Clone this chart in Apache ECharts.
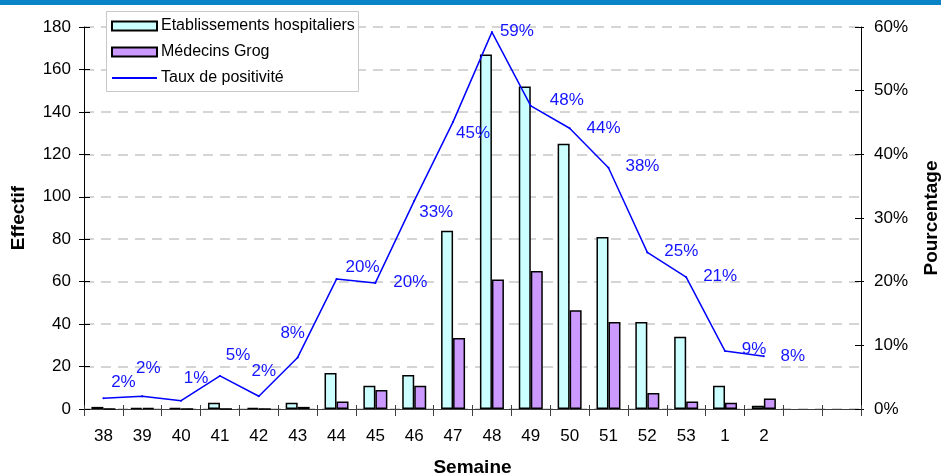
<!DOCTYPE html>
<html>
<head>
<meta charset="utf-8">
<script src="https://cdn.jsdelivr.net/npm/echarts@6/dist/echarts.min.js"></script>
<style>
html,body{margin:0;padding:0;background:#fff;}
#c{width:941px;height:475px;}
</style>
</head>
<body>
<div id="c"></div>
<script>
// ---- data ----
const weeks = ['38','39','40','41','42','43','44','45','46','47','48','49','50','51','52','53','1','2','',''];
const hospitaliers = [1, 0.5, 0.5, 3, 0.5, 3, 17, 11, 16, 84, 167, 152, 125, 81, 41, 34, 11, 1.5];
const grog = [0, 0.5, 0, 0, 0, 1, 3.5, 9, 11, 33.5, 61, 65, 46.5, 41, 7.5, 3.5, 3, 5];
const positivite = [1.7, 2.0, 1.3, 5.2, 2.0, 8.1, 20.4, 19.8, 32.7, 45.1, 59.2, 47.6, 44.1, 37.9, 24.6, 20.7, 9.1, 8.3];
const leftTicks = {min: 0, max: 180, interval: 20};
const rightTicks = {min: 0, max: 60, interval: 10};
const names = ['Etablissements hospitaliers', 'Médecins Grog', 'Taux de positivité'];

// ---- layout (label placement relative to each point, not data) ----
const labelOffsets = [[20,-16],[6,-28],[15,-22],[18,-21],[5,-25],[-5,-24],[26,-12],[35,-1],[22,12],[20,11],[25,-1],[36,-6],[34,0],[34,-1],[34,-1],[34,-1],[29,-2],[29,0]];

const FONT = 'Arial, "Liberation Sans", sans-serif';
const SYM = 2;
const chart = echarts.init(document.getElementById('c'), null, {renderer: 'canvas'});

const lineData = positivite.map((v, i) => ({
  value: v,
  label: {position: [SYM / 2 + labelOffsets[i][0], SYM / 2 + labelOffsets[i][1]]}
}));

const option = {
  backgroundColor: '#ffffff',
  animation: false,
  textStyle: {fontFamily: FONT},
  graphic: [
    {type: 'rect', left: 0, top: 0, shape: {width: 941, height: 5}, style: {fill: '#0A84C6'}, z: 10},
    {type: 'rect', left: 106, top: 11, shape: {width: 252, height: 80}, style: {fill: '#ffffff', stroke: '#c8c8c8', lineWidth: 1}, z: 3}
  ],
  legend: {
    orient: 'vertical',
    left: 105,
    top: 11,
    padding: [7, 6, 7, 6],
    itemWidth: 45,
    itemHeight: 9,
    itemGap: 10,
    z: 5,
    textStyle: {fontFamily: FONT, fontSize: 16, color: '#000', lineHeight: 16, padding: [0, 0, 0, -1]},
    data: [
      {name: names[0], icon: 'rect'},
      {name: names[1], icon: 'rect'},
      {name: names[2], icon: 'path://M0,0 L45,0 L45,2 L0,2 Z', itemStyle: {color: '#0000FF'}}
    ]
  },
  grid: {left: 84, right: 80, top: 27, bottom: 66, containLabel: false, outerBoundsMode: 'none'},
  xAxis: [
    {
      type: 'category',
      data: weeks,
      boundaryGap: true,
      position: 'bottom',
      name: 'Semaine',
      nameLocation: 'middle',
      nameGap: 49,
      nameTextStyle: {fontFamily: FONT, fontSize: 19, fontWeight: 'bold', color: '#000'},
      axisLine: {show: true, lineStyle: {color: '#404040', width: 1}},
      axisTick: {show: true, inside: false, length: 7, lineStyle: {color: '#404040'}},
      axisLabel: {fontFamily: FONT, fontSize: 17, color: '#000', margin: 19, interval: 0},
      splitLine: {show: false}
    },
    {
      type: 'category',
      data: weeks,
      boundaryGap: true,
      position: 'bottom',
      axisLine: {show: false},
      axisTick: {show: true, inside: true, length: 4, lineStyle: {color: '#404040'}},
      axisLabel: {show: false},
      splitLine: {show: false}
    }
  ],
  yAxis: [
    {
      type: 'value',
      position: 'left',
      min: leftTicks.min, max: leftTicks.max, interval: leftTicks.interval,
      name: 'Effectif',
      nameLocation: 'middle',
      nameRotate: 90,
      nameGap: 56,
      nameTextStyle: {fontFamily: FONT, fontSize: 19, fontWeight: 'bold', color: '#000'},
      axisLine: {show: true, lineStyle: {color: '#000', width: 1}},
      axisTick: {show: true, inside: false, length: 5, lineStyle: {color: '#000'}},
      axisLabel: {fontFamily: FONT, fontSize: 17, color: '#000', margin: 13},
      splitLine: {show: true, lineStyle: {color: '#c8c8c8', width: 1.5, type: [10, 7]}}
    },
    {
      type: 'value',
      position: 'right',
      min: rightTicks.min, max: rightTicks.max, interval: rightTicks.interval,
      name: 'Pourcentage',
      nameLocation: 'middle',
      nameRotate: 90,
      nameGap: 61,
      nameTextStyle: {fontFamily: FONT, fontSize: 19, fontWeight: 'bold', color: '#000'},
      axisLine: {show: true, lineStyle: {color: '#000', width: 1}},
      axisTick: {show: true, inside: false, length: 3, lineStyle: {color: '#000'}},
      axisLabel: {fontFamily: FONT, fontSize: 17, color: '#000', margin: 13, formatter: '{value}%'},
      splitLine: {show: false}
    },
    {
      type: 'value',
      position: 'left',
      min: leftTicks.min, max: leftTicks.max, interval: leftTicks.interval,
      axisLine: {show: false},
      axisTick: {show: true, inside: true, length: 6, lineStyle: {color: '#000'}},
      axisLabel: {show: false},
      splitLine: {show: false}
    },
    {
      type: 'value',
      position: 'right',
      min: rightTicks.min, max: rightTicks.max, interval: rightTicks.interval,
      axisLine: {show: false},
      axisTick: {show: true, inside: true, length: 6, lineStyle: {color: '#000'}},
      axisLabel: {show: false},
      splitLine: {show: false}
    }
  ],
  series: [
    {
      name: names[0],
      type: 'bar',
      xAxisIndex: 0,
      yAxisIndex: 0,
      data: hospitaliers,
      barWidth: 12,
      barGap: '0%',
      itemStyle: {color: '#CCFFFF', borderColor: '#000', borderWidth: 1.5}
    },
    {
      name: names[1],
      type: 'bar',
      xAxisIndex: 0,
      yAxisIndex: 0,
      data: grog,
      barWidth: 12,
      barGap: '0%',
      itemStyle: {color: '#CC99FF', borderColor: '#000', borderWidth: 1.5}
    },
    {
      name: names[2],
      type: 'line',
      xAxisIndex: 0,
      yAxisIndex: 1,
      data: lineData,
      symbol: 'circle',
      symbolSize: SYM,
      showSymbol: true,
      z: 4,
      lineStyle: {color: '#0000FF', width: 1.5},
      itemStyle: {color: '#0000FF'},
      label: {
        show: true,
        align: 'center',
        verticalAlign: 'middle',
        fontFamily: FONT,
        fontSize: 17,
        color: '#1414FF',
        formatter: p => Math.round(p.value) + '%'
      },
      labelLayout: {hideOverlap: false}
    }
  ]
};
chart.setOption(option);
</script>
</body>
</html>
